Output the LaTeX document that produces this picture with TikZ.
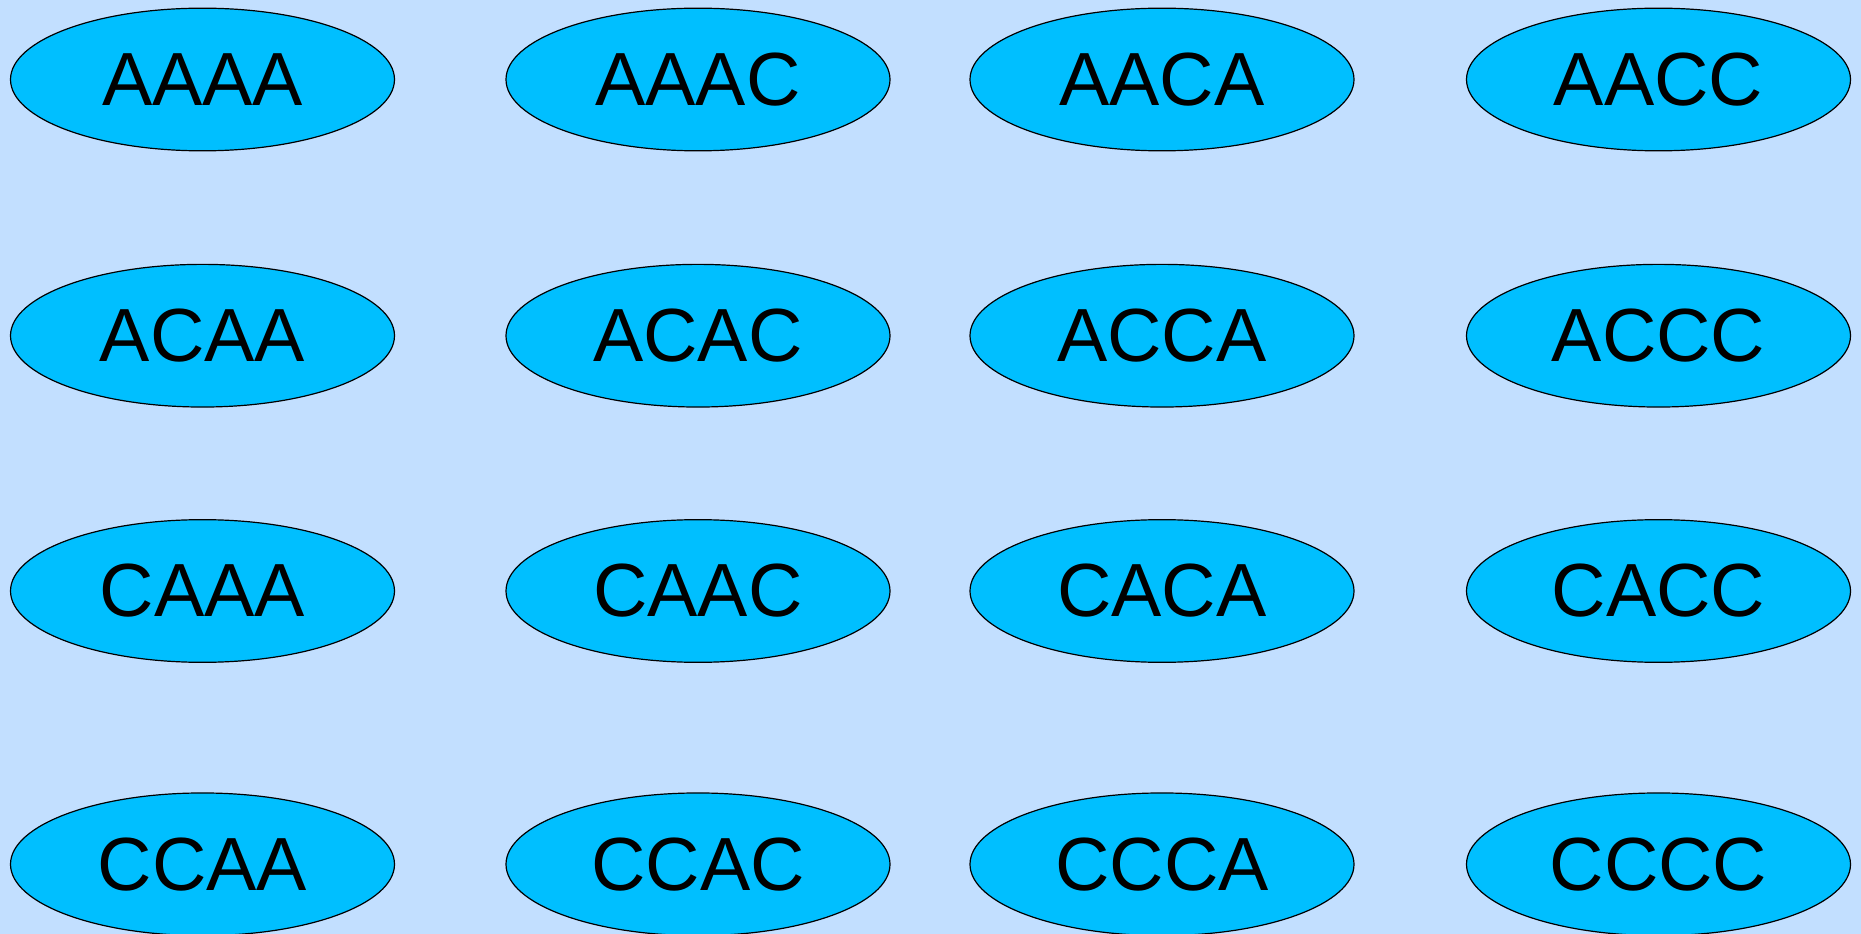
\documentclass[tikz,border=0pt]{standalone}
\usepackage{fontspec}
\setmainfont{Liberation Sans}
\usetikzlibrary{shapes.geometric}
\definecolor{bgblue}{HTML}{C2DFFF}
\definecolor{nodeblue}{HTML}{00BFFF}
\tikzset{
  seqnode/.style={ellipse, draw=black, line width=0.9pt, fill=nodeblue,
    minimum width=288pt, minimum height=107pt, inner sep=0pt,
    font=\fontsize{56.5}{60}\selectfont}
}
\begin{document}
\begin{tikzpicture}[x=0.75pt,y=-0.75pt]
\fill[bgblue] (0,0) rectangle (1861,934);
\useasboundingbox (0,0) rectangle (1861,934);
\node[seqnode] (AAAA) at (202.5,79.5) {AAAA};
\node[seqnode] (AAAC) at (698,79.5) {AAAC};
\node[seqnode] (AACA) at (1162,79.5) {AACA};
\node[seqnode] (AACC) at (1658.5,79.5) {AACC};
\node[seqnode] (ACAA) at (202.5,335.7) {ACAA};
\node[seqnode] (ACAC) at (698,335.7) {ACAC};
\node[seqnode] (ACCA) at (1162,335.7) {ACCA};
\node[seqnode] (ACCC) at (1658.5,335.7) {ACCC};
\node[seqnode] (CAAA) at (202.5,591) {CAAA};
\node[seqnode] (CAAC) at (698,591) {CAAC};
\node[seqnode] (CACA) at (1162,591) {CACA};
\node[seqnode] (CACC) at (1658.5,591) {CACC};
\node[seqnode] (CCAA) at (202.5,864.3) {CCAA};
\node[seqnode] (CCAC) at (698,864.3) {CCAC};
\node[seqnode] (CCCA) at (1162,864.3) {CCCA};
\node[seqnode] (CCCC) at (1658.5,864.3) {CCCC};
\end{tikzpicture}
\end{document}
